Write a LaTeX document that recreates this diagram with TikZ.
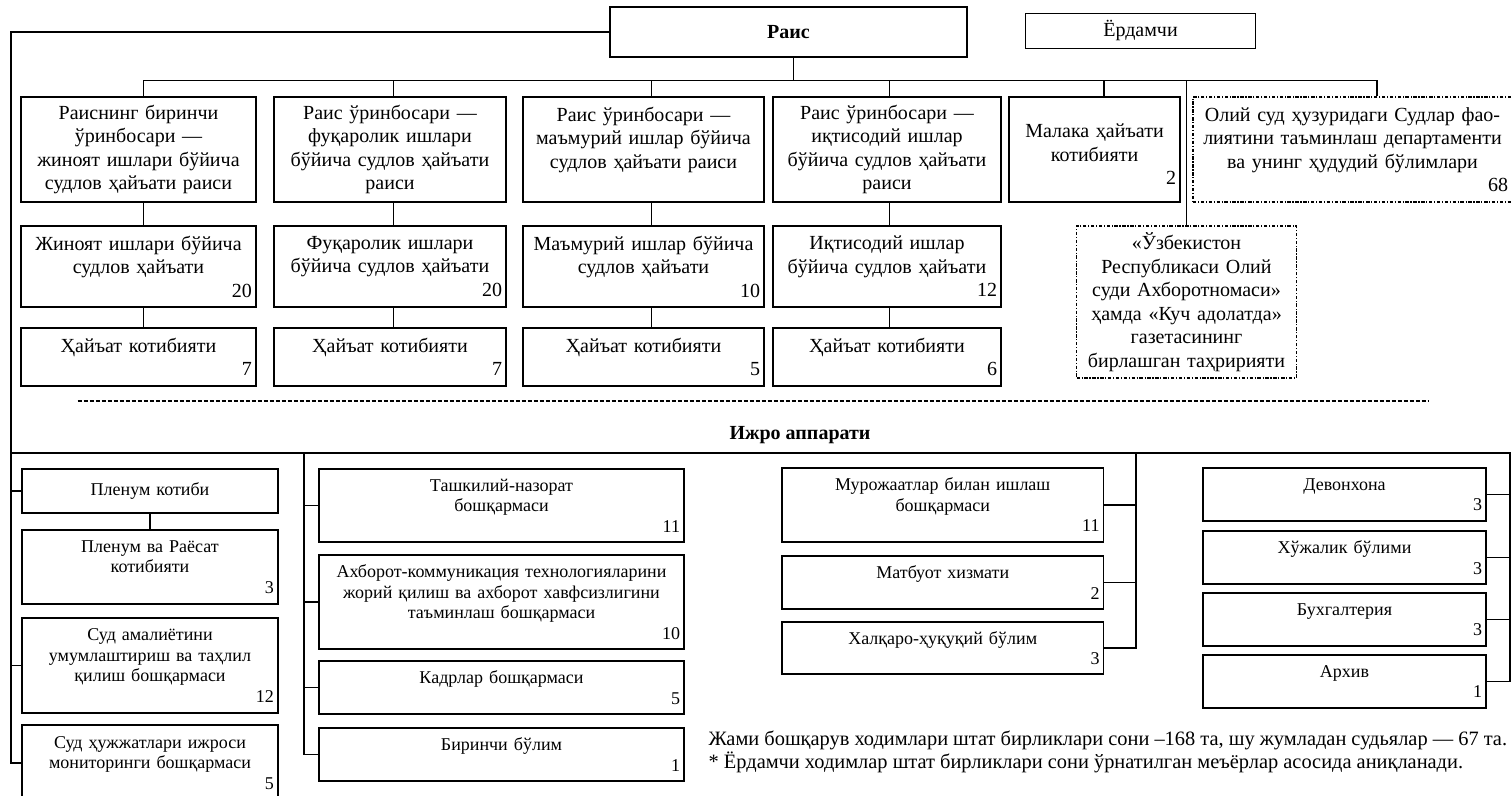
\documentclass[tikz,border=0pt]{standalone}
\usepackage{fontspec}
\setmainfont{Liberation Serif}
\usetikzlibrary{positioning}

\def\px{0.75pt}
\newcommand{\cnt}[1]{\\\mbox{}\hfill#1}

\begin{document}
\begin{tikzpicture}[x=0.75pt, y=-0.75pt, line width=1pt,
  box/.style={draw, rectangle, align=center, inner xsep=3pt, inner ysep=1pt,
    font=\fontsize{15}{17.6}\selectfont},
  sbox/.style={box, font=\fontsize{13.5}{15.4}\selectfont},
  sz/.style 2 args={minimum width=#1*\px, text width=#1*\px-6pt, minimum height=#2*\px},
  dbox/.style={box, line width=1.3pt, dash pattern=on 2.6pt off 1.2pt on 0.9pt off 1.2pt},
  sep/.style={line width=1.3pt, dash pattern=on 3pt off 1.5pt}]
 \useasboundingbox (0,0) rectangle (1511,796);

 % top
 \node[box, sz={357}{50}, font=\fontsize{15}{17.6}\selectfont\bfseries] (rais) at (788.5,32) {Раис};
 \node[box, sz={230}{35}] (yordam) at (1140.5,30.8) {Ёрдамчи};

 % deputies
 \node[box, sz={235}{105}] (b1) at (138.5,149.5) {Раиснинг биринчи\\ўринбосари —\\жиноят ишлари бўйича\\судлов ҳайъати раиси};
 \node[box, sz={232}{105}] (b2) at (390,149.5) {Раис ўринбосари —\\фуқаролик ишлари\\бўйича судлов ҳайъати\\раиси};
 \node[box, sz={241}{105}] (b3) at (643.5,149.5) {Раис ўринбосари —\\маъмурий ишлар бўйича\\судлов ҳайъати раиси\\\mbox{}};
 \node[box, sz={228}{105}] (b4) at (887,149.5) {Раис ўринбосари —\\иқтисодий ишлар\\бўйича судлов ҳайъати\\раиси};
 \node[box, sz={171}{105}] (b5) at (1094.5,149.5) {\mbox{}\\Малака ҳайъати\\котибияти\cnt{2}};
 \node[dbox, sz={319}{105}] (b6) at (1352.5,149.5) {Олий суд ҳузуридаги Судлар фао-\\лиятини таъминлаш департаменти\\ва унинг ҳудудий бўлимлари\cnt{68}};

 % collegia
 \node[box, sz={235}{81}] (c1) at (138.5,266.5) {Жиноят ишлари бўйича\\судлов ҳайъати\cnt{20}};
 \node[box, sz={232}{81}] (c2) at (390,266.5) {Фуқаролик ишлари\\бўйича судлов ҳайъати\cnt{20}};
 \node[box, sz={241}{81}] (c3) at (643.5,266.5) {Маъмурий ишлар бўйича\\судлов ҳайъати\cnt{10}};
 \node[box, sz={228}{81}] (c4) at (887,266.5) {Иқтисодий ишлар\\бўйича судлов ҳайъати\cnt{12}};
 \node[dbox, sz={220}{152}] (ozb) at (1186.5,302) {«Ўзбекистон\\Республикаси Олий\\суди Ахборотномаси»\\ҳамда «Куч адолатда»\\газетасининг\\бирлашган таҳририяти};

 % secretariats
 \foreach \i/\x/\w/\n in {1/138.5/235/7, 2/390/232/7, 3/643.5/241/5, 4/887/228/6}
   \node[box, sz={\w}{58}] (d\i) at (\x,357) {Ҳайъат котибияти\cnt{\n}};

 % links of the upper part
 \coordinate (busR) at (1377,80.5);
 \draw ([xshift=5*\px]rais.south) -- ++(0,23.8);
 \draw ([xshift=5*\px]b1.north) |- (busR) -- (busR |- b6.north);
 \foreach \n/\s in {b2/3.5,b3/8,b4/2.5,b5/9.5}
   \draw ([xshift=\s*\px]\n.north) -- ++(0,-16.8);
 \draw (ozb.north) -- (ozb.north |- busR);
 \foreach \i/\s in {1/5,2/3.5,3/8,4/2.5} {
   \draw ([xshift=\s*\px]b\i.south) -- ([xshift=\s*\px]c\i.north);
   \draw ([xshift=\s*\px]c\i.south) -- ([xshift=\s*\px]d\i.north);
 }

 \draw[sep] (77.6,400.7) -- (1429,400.7);
 \node[font=\fontsize{15}{17.6}\selectfont\bfseries] (ijro) at (800,435) {Ижро аппарати};

 % apparatus, left
 \node[sbox, sz={256}{44}] (p1) at (150,491) {Пленум котиби};
 \node[sbox, sz={256}{74}] (p2) at (150,567) {Пленум ва Раёсат\\котибияти\cnt{3}};
 \node[sbox, sz={256}{95}] (p3) at (150,665.5) {Суд амалиётини\\умумлаштириш ва таҳлил\\қилиш бошқармаси\cnt{12}};
 \node[sbox, sz={256}{76}] (p4) at (150,763) {Суд ҳужжатлари ижроси\\мониторинги бошқармаси\cnt{5}};

 \node[sbox, sz={365}{73}] (m1) at (501.5,505.5) {Ташкилий-назорат\\бошқармаси\cnt{11}};
 \node[sbox, sz={365}{94}] (m2) at (501.5,602) {Ахборот-коммуникация технологияларини\\жорий қилиш ва ахборот хавфсизлигини\\таъминлаш бошқармаси\cnt{10}};
 \node[sbox, sz={365}{53}] (m3) at (501.5,687.5) {Кадрлар бошқармаси\cnt{5}};
 \node[sbox, sz={365}{53}] (m4) at (501.5,754.5) {Биринчи бўлим\cnt{1}};

 \node[sbox, sz={321.5}{74}] (r1) at (942.75,505) {Мурожаатлар билан ишлаш\\бошқармаси\cnt{11}};
 \node[sbox, sz={321.5}{53}] (r2) at (942.75,582.5) {Матбуот хизмати\cnt{2}};
 \node[sbox, sz={321.5}{52}] (r3) at (942.75,648) {Халқаро-ҳуқуқий бўлим\cnt{3}};

 \node[sbox, sz={283}{53}] (s1) at (1344.5,494.5) {Девонхона\cnt{3}};
 \node[sbox, sz={283}{53}] (s2) at (1344.5,557.5) {Хўжалик бўлими\cnt{3}};
 \node[sbox, sz={283}{53}] (s3) at (1344.5,619.5) {Бухгалтерия\cnt{3}};
 \node[sbox, sz={283}{53}] (s4) at (1344.5,681.5) {Архив\cnt{1}};

 \node[anchor=west, align=left, inner sep=0pt, font=\fontsize{15.3}{15.3}\selectfont] (note) at (708,752)
   {Жами бошқарув ходимлари штат бирликлари сони –168 та, шу жумладан судьялар — 67 та.\\
    * Ёрдамчи ходимлар штат бирликлари сони ўрнатилган меъёрлар асосида аниқланади.};

 % links of the apparatus
 \coordinate (lane) at (11,0);
 \coordinate (rail) at (1510,453);
 \coordinate (laneM) at (304,453);
 \coordinate (laneR) at (1136,453);
 \draw (rais.west) -| (lane |- p4.west) -- (p4.west);
 \draw (lane |- rail) -- (rail) |- (s4.east);
 \foreach \n in {p1,p3}
   \draw (lane |- \n.west) -- (\n.west);
 \draw (p1) -- (p2);
 \draw (laneM) |- (m4.west);
 \foreach \n in {m1,m2,m3}
   \draw (\n.west) -- (\n.west -| laneM);
 \draw (laneR) |- (r3.east);
 \foreach \n in {r1,r2}
   \draw (\n.east) -- (\n.east -| laneR);
 \foreach \n in {s1,s2,s3}
   \draw (\n.east) -- (\n.east -| rail);
\end{tikzpicture}
\end{document}
